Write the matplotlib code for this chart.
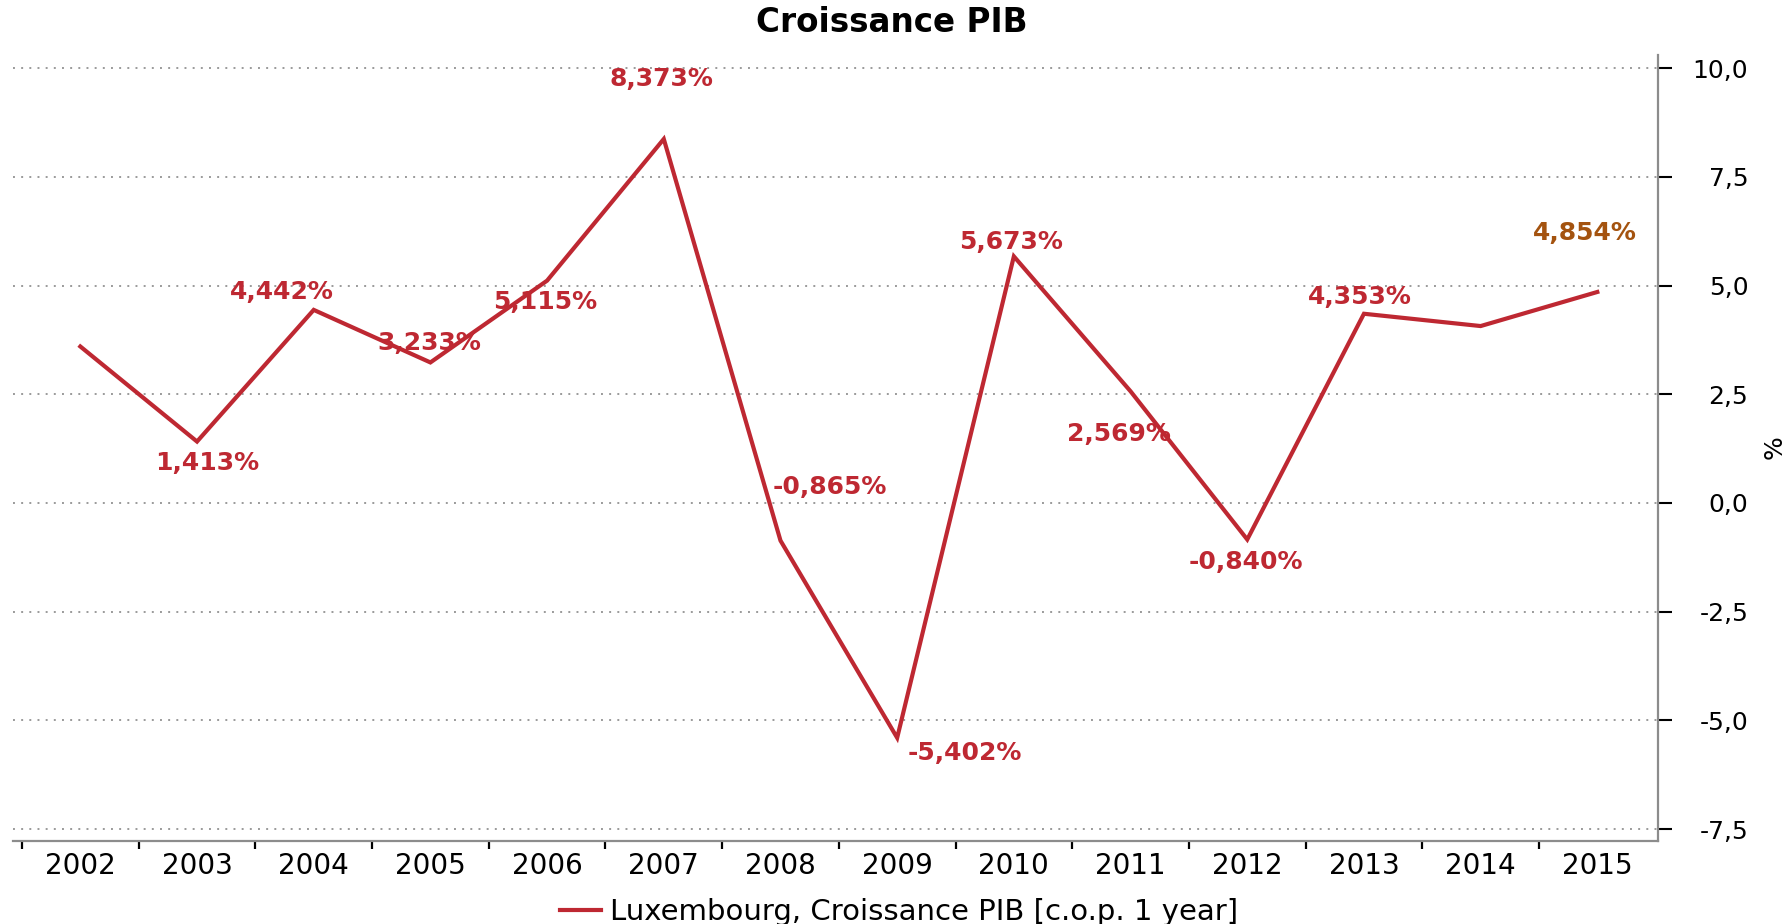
import numpy as np
import matplotlib
matplotlib.use("Agg")
import matplotlib.pyplot as plt

# Luxembourg GDP growth, % y/y
years = ["2002", "2003", "2004", "2005", "2006", "2007", "2008",
         "2009", "2010", "2011", "2012", "2013", "2014", "2015"]
growth = [3.60, 1.413, 4.442, 3.233, 5.115, 8.373, -0.865,
          -5.402, 5.673, 2.569, -0.840, 4.353, 4.07, 4.854]
y_ticks = [-7.5, -5.0, -2.5, 0.0, 2.5, 5.0, 7.5, 10.0]

# label offsets in pixels (None = no label shown)
label_offsets = [None, (10, -21), (-32, 18), (-1, 19), (-2, -21), (-2, 60), (49, 54),
                 (68, -15), (-3, 14), (-12, -43), (-1, -23), (-4, 17), None, (-12, 59)]

RED = "#BE2832"
BROWN = "#A4530F"

plt.rcParams["font.family"] = ["DejaVu Sans"]

fig = plt.figure(figsize=(17.91, 9.24), dpi=100)
ax = fig.add_axes([13 / 1791, 1 - 841 / 924, (1658 - 13) / 1791, (841 - 54.5) / 924])

x = np.arange(len(years))
ax.plot(x, growth, color=RED, lw=3.0, solid_joinstyle="miter",
        label="Luxembourg, Croissance PIB [c.o.p. 1 year]", zorder=3)

for i, (v, off) in enumerate(zip(growth, label_offsets)):
    if off is None:
        continue
    txt = f"{v:.3f}%".replace(".", ",")
    col = BROWN if i == len(growth) - 1 else RED
    ax.annotate(txt, (x[i], v), xytext=off, textcoords="offset pixels",
                ha="center", va="center", color=col, fontsize=18, fontweight="bold",
                zorder=4)

ax.set_xlim(-0.577, 13.52)
ax.set_ylim(-7.776, 10.317)

# y axis on the right
ax.yaxis.tick_right()
ax.set_yticks(y_ticks)
ax.set_yticklabels([f"{t:.1f}".replace(".", ",") for t in y_ticks])
ax.tick_params(axis="y", which="major", direction="out", length=10, width=1.5,
               color="black", pad=55, labelsize=18)
for lab in ax.yaxis.get_majorticklabels():
    lab.set_horizontalalignment("right")
fig.text(1775 / 1791, 1 - 447 / 924, "%", rotation=90, ha="center", va="center",
         fontsize=18)

# x axis: ticks between years, labels centred on years
ax.set_xticks(np.arange(-0.5, 12.6, 1.0))
ax.set_xticklabels([])
ax.set_xticks(x, minor=True)
ax.set_xticklabels(years, minor=True)
ax.tick_params(axis="x", which="major", direction="out", length=6, width=1.6,
               color="black")
ax.tick_params(axis="x", which="minor", length=0, pad=8, labelsize=20)

for side in ["left", "top"]:
    ax.spines[side].set_visible(False)
ax.spines["right"].set_color("#8c8c8c")
ax.spines["right"].set_linewidth(1.6)
ax.spines["bottom"].set_color("#8c8c8c")
ax.spines["bottom"].set_linewidth(1.6)

ax.yaxis.grid(True, color="#9a9a9a", linestyle=(0, (1, 3.2)), linewidth=1.4)
ax.set_axisbelow(True)

fig.text(892 / 1791, 1 - 23 / 924, "Croissance PIB", ha="center", va="center",
         fontsize=23.5, fontweight="bold")

ax.legend(loc="center", bbox_to_anchor=(899 / 1791, 1 - 912 / 924),
          bbox_transform=fig.transFigure, frameon=False, fontsize=21,
          handlelength=1.4, handletextpad=0.3, borderpad=0)

fig.savefig("out.png", dpi=100)
